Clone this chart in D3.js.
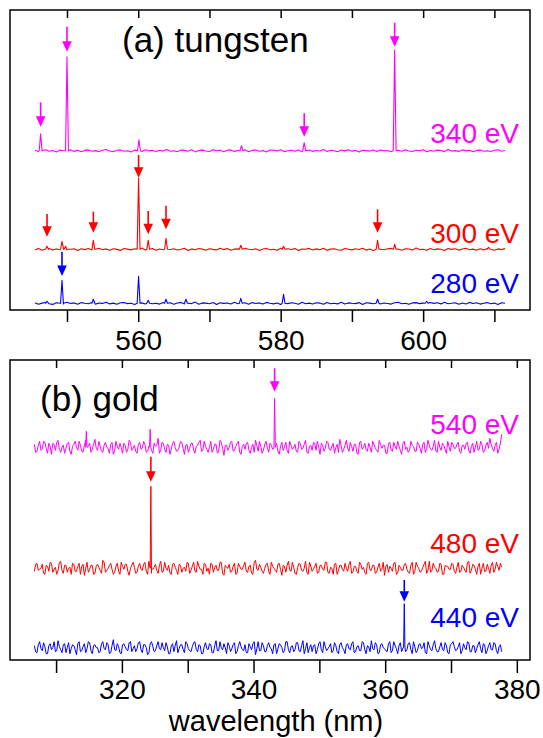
<!DOCTYPE html>
<html><head><meta charset="utf-8">
<script src="https://cdn.jsdelivr.net/npm/d3@7"></script>
<style>html,body{margin:0;padding:0;background:#fff;}svg{display:block;}</style>
</head><body>
<svg id="chart" width="543" height="738"></svg>
<script>
// ---------- DATA ----------
// Panel (a) tungsten
const wLabels = ["340 eV", "300 eV", "280 eV"];
const wColors = ["#ff00ff", "#ff0000", "#0000ff"];
const wOffsets = [159.3, 60.7, 6.7];          // trace baselines (arb. units)
const wLabelLevels = [166.7, 66.7, 16.7];
const wGridStart = 545.5, wGridStep = 0.5;
const w340Noise = [0.5,-0.8,0.3,1.0,-0.5,0.2,-1.2,0.6,0.0,-0.4,0.9,-0.7,0.4,-1.0,0.3,0.8,-0.6,0.1,-0.9,0.5,
1.2,-0.3,-1.1,0.4,0.7,-0.5,0.0,-1.3,0.6,0.2,-0.8,1.0,-0.2,0.3,-0.9,0.5,-0.4,1.1,-0.6,0.0,
-1.0,0.7,0.3,-0.5,0.9,-1.2,0.2,0.6,-0.3,-0.8,1.0,-0.1,0.4,-1.1,0.5,0.8,-0.7,0.2,-0.4,0.9,
-1.0,0.3,0.6,-0.6,0.1,-1.3,0.7,0.4,-0.2,1.0,-0.9,0.0,0.5,-0.5,0.8,-1.1,0.3,0.6,-0.7,0.2,
-0.3,1.1,-0.8,0.4,0.0,-1.0,0.7,-0.2,0.9,-0.6,0.3,-1.2,0.5,0.1,-0.4,0.8,-0.9,0.6,-0.1,0.2,
-1.0,0.7,0.4,-0.6,1.0,-0.3,-0.8,0.5,0.0,0.9,-1.1,0.3,-0.5,0.6,0.2,-0.9,1.2,-0.4,0.1,-0.7,
0.8,-0.2,0.5,-1.0,0.3,0.6,-0.6,0.0,-0.8,0.4,1.0,-0.5,0.2];
const w300Noise = [-0.4,0.7,-1.0,0.2,0.9,-0.6,0.3,-0.2,1.1,-0.8,0.0,0.5,-1.2,0.6,-0.3,0.8,-0.7,0.1,1.0,-0.5,
0.4,-0.9,0.6,-0.1,-1.1,0.8,0.2,-0.6,0.5,-0.3,1.2,-0.8,0.0,0.7,-1.0,0.3,-0.4,0.9,-0.2,0.6,
-0.7,0.1,1.0,-1.2,0.4,-0.5,0.8,0.2,-0.9,0.5,-0.1,-0.6,1.1,-0.3,0.7,-1.0,0.2,0.4,-0.8,0.9,
0.0,-0.5,0.6,-1.1,0.3,0.8,-0.4,0.1,-0.9,1.0,-0.6,0.5,-0.2,0.7,-1.3,0.3,0.0,0.9,-0.7,0.4,
-0.5,1.1,-0.9,0.2,0.6,-0.4,-1.0,0.8,0.1,-0.6,0.5,-0.2,1.0,-0.8,0.3,-1.1,0.7,0.0,-0.4,0.6,
0.9,-0.7,0.2,-1.0,0.5,0.3,-0.6,1.2,-0.3,0.1,-0.9,0.7,-0.5,0.4,0.0,-1.2,0.8,-0.1,0.6,-0.8,
0.3,1.0,-0.4,0.2,-0.9,0.5,-0.6,0.8,0.1,-1.0,0.4,-0.3,0.7];
const w280Noise = [0.6,-0.9,0.2,0.8,-0.4,-1.1,0.5,0.1,-0.6,1.0,-0.2,0.4,-1.0,0.7,0.0,-0.5,0.9,-0.8,0.3,-0.1,
1.1,-0.6,0.2,-0.9,0.5,0.8,-0.3,0.0,-1.2,0.6,0.4,-0.7,1.0,-0.4,0.1,-0.8,0.7,-0.2,0.5,-1.0,
0.3,0.9,-0.6,0.0,-0.3,1.2,-0.9,0.4,0.2,-0.5,0.8,-1.1,0.6,-0.1,0.3,-0.7,1.0,-0.4,0.0,0.5,
-1.0,0.7,-0.2,0.4,-0.8,0.9,0.1,-0.6,0.3,-1.2,0.8,-0.3,0.5,0.0,-0.9,1.1,-0.5,0.2,-0.7,0.6,
0.2,-1.0,0.9,-0.4,0.1,-0.6,1.0,-0.8,0.4,0.0,-0.3,0.7,-1.1,0.5,0.2,-0.5,0.9,-0.7,0.3,-0.2,
-0.8,0.6,1.0,-0.5,0.0,-1.0,0.4,0.7,-0.3,0.2,-0.9,0.8,-0.1,0.5,-0.6,1.1,-0.4,0.0,0.6,-1.0,
0.3,-0.7,0.9,-0.2,0.5,-0.8,0.1,0.7,-0.5,0.2,-1.1,0.6,0.0];
// peaks: [wavelength nm, height above baseline]
const w340Peaks = [[546.3,17],[550.0,94],[560.1,11],[574.5,5],[583.3,8],[596.0,101]];
const w300Peaks = [[547.2,3],[549.3,8],[549.8,3],[553.7,9],[560.05,71],[561.4,9],[563.9,11],[574.4,4],[580.4,3],[593.6,9],[596.0,5],[609.2,2]];
const w280Peaks = [[547.2,2],[549.3,23],[553.7,4],[560.05,27],[561.4,3],[563.9,4],[566.7,4],[574.4,5],[580.4,9],[593.6,4],[600.5,2]];
// arrows: [wavelength, tail level, tip level]
const w340Arrows = [[546.3,207.7,183.3],[550.0,283.3,258.3],[583.3,196.7,173.3],[596.0,287.3,263.3]];
const w300Arrows = [[547.2,96,73.3],[553.7,98.3,77.3],[560.05,155,132.3],[561.4,99,75.7],[563.9,104.3,80.7],[593.6,100.7,77.3]];
const w280Arrows = [[549.3,58.3,34]];
const wTicks = [550,560,570,580,590,600,610];
const wTickLabels = [560,580,600];

// Panel (b) gold
const aLabels = ["540 eV", "480 eV", "440 eV"];
const aColors = ["#ff00ff", "#ff0000", "#0000ff"];
const aOffsets = [212.7, 91.7, 12.3];
const aLabelLevels = [226, 107.3, 32.7];
const aGridStart = 306.7, aGridStep = 0.2;
// noise read at even (A) and odd (B) sample positions
const a540NoiseA = [3,-4,6,-2,5,-6,1,4,-3,7,-5,2,-1,5,-7,3,0,6,-4,2,
-6,4,-2,8,-3,1,-5,5,-1,3,-7,6,-2,0,4,-5,7,-3,2,-6,
5,-1,3,-4,6,-6,1,9,-3,4,-5,2,-2,6,-4,0,5,-7,3,-1,
4,-6,2,7,-3,1,-5,6,-2,3,-4,5,-8,2,0,6,-3,4,-5,1,
-2,5,-6,3,7,-4,1,-3,6,-5,2,-1,4,-7,5,0,-3,6,-2,3,
-5,4,-1,7,-6,2,5,-3,0,4,-4,6,-2,1,-6,3,8,-5,2,-1,
5,-4,3,-7,6,0,-2,4,-5,3,-3,7,-1,2,-6,5,-4,1,6,-3,
4,-2,-5,6,1,-4,3,-6,5,-1,2,-3,7,-5,0,4,-2,6,-4,3,
-1,5,-6,2,4,-3,1,-5,6,-2,3,-4,5,9,-1,2,-6,4];
const a540NoiseB = [-5,2,-3,6,-1,4,-7,3,5,-2,0,-6,4,-4,1,6,-3,2,-5,7,
1,-5,3,-1,6,-4,2,0,-6,5,-3,1,4,-6,2,-2,5,-1,-4,3,
-2,6,-5,1,-3,4,2,-6,5,-2,3,-7,4,0,-3,6,-1,2,-5,4,
-3,1,5,-4,6,-2,0,-5,3,-6,7,-1,2,-3,5,-4,1,6,-7,3,
4,-3,0,-5,2,6,-6,3,-1,4,-2,7,-4,1,-3,5,-6,2,0,-4,
6,-2,3,-5,1,-3,4,6,-7,2,-1,5,-3,4,0,-5,2,-2,7,-4,
1,3,-6,5,-2,4,-4,0,6,-1,-5,3,2,-6,4,-3,5,-2,1,-7,
6,0,-3,2,-4,5,-1,3,-5,7,-2,1,-4,6,-3,2,-6,1,5,-1,
3,-4,2,-2,5,-6,4,0,-3,6,-5,2,-1,3,-4,5,-2,13];
const a480NoiseA = [-3,5,-1,4,-6,2,6,-4,1,-2,7,-5,3,0,-6,4,-3,5,2,-7,
6,-1,3,-5,4,-2,8,-4,0,5,-6,2,-3,6,-1,4,-7,3,1,-4,
5,-2,6,-6,2,-1,4,-5,7,-3,0,3,-6,5,-2,4,-4,1,6,-5,
2,-3,7,-1,-6,4,0,5,-4,3,-2,6,-7,1,4,-3,5,-5,2,-1,
6,-4,3,-6,8,-2,1,-5,4,-3,6,0,-4,5,-7,2,3,-2,6,-5,
1,4,-3,7,-6,2,-1,5,-4,3,-2,6,-5,0,4,-6,3,-1,5,-3,
7,-4,2,-5,4,1,-6,6,-2,3,-4,5,-1,-7,4,2,-3,6,-5,1,
-2,5,-4,3,-6,6,0,-3,4,-5,7,-2,1,-4,5,-6,3,2,-1,4,
-5,6,-3,1,-4,7,-2,3,-6,5,0,-3,4,-5,6,-1,2,5];
const a480NoiseB = [4,-2,0,-5,3,-3,5,-1,-6,6,-2,3,-4,1,5,-3,2,-6,4,0,
-4,3,-6,2,1,-5,6,-2,3,-1,-4,5,-6,2,4,-3,0,6,-5,2,
-1,4,-3,7,-5,1,-2,3,-4,6,-2,-5,4,1,-6,3,0,-3,5,-2,
6,-4,2,-1,5,-3,-6,4,1,-2,6,-5,3,0,-4,2,-6,5,-1,3,
-3,2,-5,6,-1,4,-3,0,5,-6,2,-2,4,-1,3,-4,7,-3,1,-6,
5,-2,0,-4,6,-3,2,-5,3,-1,6,-4,1,-6,5,-2,3,-3,0,4,
-5,2,-3,6,-1,-4,5,-2,3,-5,1,-3,6,2,-4,0,5,-6,3,-2,
4,-1,-5,6,-3,2,-4,1,7,-2,-4,5,0,-3,4,-6,2,-1,5,-3,
1,-4,3,-2,6,-5,4,-1,2,-6,5,-3,0,3,-4,6,-2,1];
const a440NoiseA = [2,-5,6,-3,1,-6,4,0,-4,7,-2,3,-5,5,-1,2,-7,6,-3,4,
-1,5,-6,3,0,-4,6,-2,3,-5,8,-3,1,-6,4,-2,5,-4,2,-1,
6,-5,3,-7,4,1,-3,6,-2,0,5,-6,2,-4,7,-1,3,-5,4,-3,
1,6,-4,2,-6,5,-2,3,-5,7,-3,0,4,-6,2,-1,5,-4,6,-2,
3,-5,1,4,-7,6,-3,2,-4,5,-1,3,-6,4,0,-3,6,-5,2,-2,
5,-4,7,-1,-5,3,2,-6,4,-2,6,-3,1,-5,5,-4,3,0,-6,4,
-2,6,-4,2,-3,5,-6,1,7,-2,3,-5,4,-1,-4,6,-3,2,-6,5,
0,-4,4,-2,6,-5,3,-1,5,-6,2,-3,7,-4,1,-2,5,-5,3,6,
-3,1,-6,4,-2,5,-4,2,-1,6,-5,3,-3,5,-2,4,-6,3];
const a440NoiseB = [-4,3,-1,5,-6,2,-2,6,-3,1,-5,4,0,-6,3,-2,4,-4,1,-5,
6,-3,2,0,-5,4,-1,5,-6,2,-2,4,-5,3,1,-3,6,-1,-4,5,
-2,3,0,-5,6,-4,2,-1,5,-3,1,-6,4,2,-5,3,-2,6,-1,-4,
5,-2,3,-6,1,-1,4,-5,2,-3,6,-2,0,5,-4,3,-6,2,1,-3,
-5,4,-2,6,-1,-3,5,-4,2,0,-6,4,-1,3,-5,6,-2,1,-4,5,
-3,2,-6,5,0,-4,3,-2,6,-5,1,-1,4,-3,2,-6,5,-2,3,-1,
4,-5,1,-3,6,-2,2,-4,-1,5,-6,3,0,-3,4,-5,6,-1,2,-4,
3,-2,5,-6,1,-3,4,0,-5,6,-2,3,-1,-4,5,-3,2,-6,4,1,
-2,5,-3,0,6,-4,2,-5,3,-1,4,-6,2,-2,5,-3,1,-4];
const a540Peaks = [[314.6,16],[324.3,18],[343.2,49]];
const a480Peaks = [[324.4,82]];
const a440Peaks = [[362.9,44]];
const a540Arrows = [[343.2,291.7,268.3]];
const a480Arrows = [[324.4,203.3,178.3]];
const a440Arrows = [[362.9,80,58.3]];
const aTicks = [310,320,330,340,350,360,370,380];
const aTickLabels = [320,340,360,380];

// ---------- LAYOUT ----------
const FONT = "'Liberation Sans', Arial, Helvetica, sans-serif";
const L = 10, R = 530;
const svg = d3.select("#chart");
const interleave = (A, B) => A.flatMap((a, i) => [a, B[i]]);

function buildTrace(start, step, noise, offset, peaks, delta) {
  const pts = [];
  noise.forEach((n, i) => {
    const lam = start + i * step;
    if (!peaks.some(p => Math.abs(p[0] - lam) < delta)) pts.push([lam, offset + n]);
  });
  peaks.forEach(p => {
    pts.push([p[0] - delta, offset]);
    pts.push([p[0], offset + p[1]]);
    pts.push([p[0] + delta, offset]);
  });
  pts.sort((a, b) => a[0] - b[0]);
  return pts;
}

function panel(cfg) {
  const x = d3.scaleLinear().domain(cfg.domain).range([L, R]);
  const y = d3.scaleLinear().domain([0, 300]).range([cfg.y1, cfg.y0]);
  const g = svg.append("g");

  cfg.traces.forEach((t, i) => {
    const pts = buildTrace(cfg.gridStart, cfg.gridStep, t.noise, cfg.offsets[i], t.peaks, cfg.delta);
    g.append("path")
      .attr("d", d3.line().x(d => x(d[0])).y(d => y(d[1]))(pts))
      .attr("fill", "none").attr("stroke", cfg.colors[i])
      .attr("stroke-width", cfg.lw).attr("stroke-linejoin", "round");
    t.arrows.forEach(a => {
      const ax = x(a[0]), yt = y(a[1]), yp = y(a[2]);
      g.append("line").attr("x1", ax).attr("x2", ax).attr("y1", yt).attr("y2", yp - 8)
        .attr("stroke", cfg.colors[i]).attr("stroke-width", 1.6);
      g.append("path")
        .attr("d", `M${ax - 4.8},${yp - 10.5}L${ax + 4.8},${yp - 10.5}L${ax},${yp}Z`)
        .attr("fill", cfg.colors[i]);
    });
    g.append("text").attr("x", 519).attr("y", y(cfg.labelLevels[i]))
      .attr("text-anchor", "end").attr("font-family", FONT).attr("font-size", 28)
      .attr("fill", cfg.colors[i]).text(cfg.labels[i]);
  });

  // axes
  const bottom = d3.axisBottom(x).tickValues(cfg.ticks).tickSize(cfg.tickOut).tickPadding(cfg.pad)
    .tickFormat(d => cfg.tickLabels.includes(d) ? d3.format("d")(d) : "");
  const ba = svg.append("g").attr("transform", `translate(0,${cfg.y1})`).call(bottom);
  ba.select(".domain").remove();
  ba.selectAll("line").attr("stroke", "#000").attr("stroke-width", 1.5);
  ba.selectAll("text").attr("font-family", FONT).attr("font-size", 28).attr("fill", "#000");
  const top = d3.axisTop(x).tickValues(cfg.ticks).tickSize(-8).tickFormat("");
  const ta = svg.append("g").attr("transform", `translate(0,${cfg.y0})`).call(top);
  ta.select(".domain").remove();
  ta.selectAll("line").attr("stroke", "#000").attr("stroke-width", 1.5);

  svg.append("rect").attr("x", L).attr("y", cfg.y0).attr("width", R - L).attr("height", cfg.y1 - cfg.y0)
    .attr("fill", "none").attr("stroke", "#000").attr("stroke-width", 1.5);

  svg.append("text").attr("x", cfg.titleX).attr("y", cfg.titleY)
    .attr("font-family", FONT).attr("font-size", 35).attr("fill", "#000").text(cfg.title);
}

panel({
  domain: [542, 615], y0: 10, y1: 310, gridStart: wGridStart, gridStep: wGridStep, delta: 0.2, lw: 1.1,
  offsets: wOffsets, colors: wColors, labels: wLabels, labelLevels: wLabelLevels,
  traces: [
    {noise: w340Noise, peaks: w340Peaks, arrows: w340Arrows},
    {noise: w300Noise, peaks: w300Peaks, arrows: w300Arrows},
    {noise: w280Noise, peaks: w280Peaks, arrows: w280Arrows}
  ],
  ticks: wTicks, tickLabels: wTickLabels, tickOut: 12, pad: 8,
  title: "(a) tungsten", titleX: 122, titleY: 52
});

panel({
  domain: [303, 382], y0: 360, y1: 660, gridStart: aGridStart, gridStep: aGridStep, delta: 0.1, lw: 1,
  offsets: aOffsets, colors: aColors, labels: aLabels, labelLevels: aLabelLevels,
  traces: [
    {noise: interleave(a540NoiseA, a540NoiseB), peaks: a540Peaks, arrows: a540Arrows},
    {noise: interleave(a480NoiseA, a480NoiseB), peaks: a480Peaks, arrows: a480Arrows},
    {noise: interleave(a440NoiseA, a440NoiseB), peaks: a440Peaks, arrows: a440Arrows}
  ],
  ticks: aTicks, tickLabels: aTickLabels, tickOut: 13, pad: 6,
  title: "(b) gold", titleX: 40, titleY: 411
});

svg.append("text").attr("x", 276).attr("y", 731).attr("text-anchor", "middle")
  .attr("font-family", FONT).attr("font-size", 29).attr("fill", "#000").text("wavelength (nm)");
</script>
</body></html>
